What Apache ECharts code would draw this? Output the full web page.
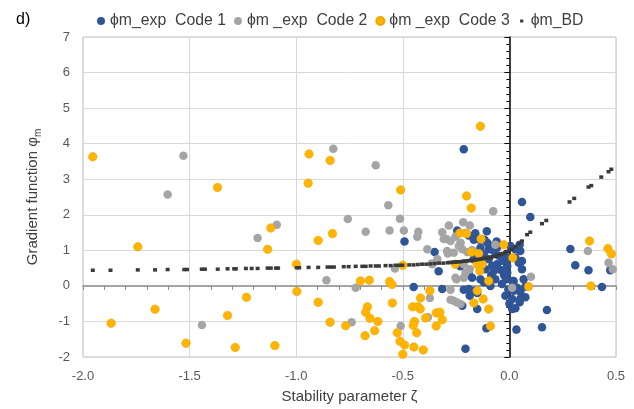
<!DOCTYPE html>
<html>
<head>
<meta charset="utf-8">
<script src="https://cdn.jsdelivr.net/npm/echarts@6/dist/echarts.min.js"></script>
<style>
html,body{margin:0;padding:0;background:#fff;}
#chart{width:634px;height:409px;}
</style>
</head>
<body>
<div id="chart"></div>
<script>
// ---- data ----
var seriesNames = ['\u03d5m_exp  Code 1', '\u03d5m _exp  Code 2', '\u03d5m _exp  Code 3', '\u03d5m_BD'];

var code1Points = [
[-0.214,3.84],[0.059,2.36],[0.098,1.94],[-0.492,1.25],[-0.351,0.95],[-0.332,0.41],[-0.449,-0.03],[-0.315,-0.09],
[-0.245,1.56],[-0.191,1.42],[-0.167,1.30],[-0.106,1.54],[-0.139,1.30],[-0.117,1.30],[-0.104,1.21],[-0.081,1.12],
[-0.058,1.07],[-0.097,1.03],[-0.073,0.98],[-0.136,1.07],[0.005,1.12],[0.028,1.03],[0.048,1.16],[0.028,0.79],
[0.059,0.70],[-0.167,0.75],[-0.097,0.75],[-0.081,0.56],[-0.058,0.61],[-0.112,0.47],[-0.175,0.23],[-0.136,0.19],
[-0.073,0.42],[-0.066,0.19],[-0.089,0.00],[-0.191,-0.09],[-0.167,-0.14],[-0.214,-0.11],[-0.186,-0.28],[-0.151,-0.20],
[-0.221,-0.56],[-0.151,-0.65],[-0.108,-1.19],[-0.206,-1.77],[0.033,-1.23],[0.153,-1.16],[0.176,-0.68],[0.048,-0.46],
[0.028,-0.63],[0.013,-0.65],[0.013,-0.37],[-0.019,-0.28],[0.051,-0.37],[0.075,-0.32],[0.051,-0.14],[0.020,0.14],
[0.067,0.19],[0.075,-0.02],[-0.010,0.56],[-0.010,0.37],[-0.015,0.19],[-0.020,0.85],[-0.030,0.70],[-0.040,0.45],
[-0.025,0.30],[-0.035,0.05],[0.286,1.04],[0.309,0.58],[0.371,0.44],[0.434,-0.03],[0.473,0.44],[-0.005,-0.10],
[0.020,-0.14],[-0.120,0.88],[-0.050,0.85],[-0.085,0.30],[-0.019,0.75],[-0.027,0.42],[0.013,0.14],[0.036,-0.05],
[0.051,0.98],[0.044,0.65],[0.059,0.47],[0.051,-0.17],[-0.230,0.55],[-0.190,0.33],[-0.160,1.48],[-0.060,1.25],
[0.000,-0.50],[-0.120,0.10]
];

var code2Points = [
[-1.529,3.66],[-1.603,2.57],[-1.181,1.35],[-1.091,1.72],[-0.858,0.16],[-1.442,-1.10],[-0.826,3.86],[-0.627,3.39],
[-0.568,2.27],[-0.758,1.88],[-0.513,1.89],[-0.674,1.52],[-0.562,1.56],[-0.495,1.56],[-0.427,1.52],[-0.432,1.38],
[-0.284,1.70],[-0.308,1.32],[-0.295,1.32],[-0.385,1.03],[-0.289,0.91],[-0.740,-1.02],[-0.721,-0.05],[-0.537,0.49],
[-0.510,-1.13],[-0.382,-0.88],[-0.373,-0.34],[-0.276,-0.39],[-0.365,0.63],[-0.261,-0.42],[-0.245,-0.47],[-0.229,-0.51],
[-0.076,2.10],[-0.217,1.79],[-0.186,1.70],[-0.315,1.51],[-0.253,1.38],[-0.206,1.49],[-0.276,1.26],[-0.229,1.21],
[-0.066,1.16],[-0.292,0.98],[-0.261,0.93],[-0.221,1.03],[-0.198,0.95],[-0.175,1.01],[-0.338,0.75],[-0.362,0.61],
[-0.214,0.61],[-0.186,0.47],[-0.206,0.37],[-0.253,0.23],[-0.214,0.23],[-0.276,-0.11],[-0.248,0.19],[0.101,0.26],
[0.013,-0.05],[0.368,0.98],[0.465,0.65],[0.485,0.47],[-0.237,1.12]
];

var code3Points = [
[-1.954,3.63],[-1.369,2.77],[-1.743,1.10],[-1.868,-1.05],[-1.662,-0.66],[-1.517,-1.61],[-1.286,-1.73],[-1.100,-1.68],
[-1.233,-0.32],[-1.322,-0.83],[-1.119,1.63],[-1.134,1.03],[-0.897,1.28],[-0.830,1.47],[-0.999,0.61],[-0.997,-0.16],
[-0.897,-0.46],[-0.841,-1.02],[-0.768,-1.12],[-0.940,3.71],[-0.841,3.53],[-0.944,2.89],[-0.510,2.70],[-0.699,0.14],
[-0.657,0.16],[-0.562,0.12],[-0.551,0.04],[-0.500,0.58],[-0.666,-0.59],[-0.674,-0.74],[-0.654,-0.91],[-0.617,-1.00],
[-0.632,-1.26],[-0.677,-1.40],[-0.549,-0.48],[-0.526,-1.32],[-0.513,-1.56],[-0.492,-1.66],[-0.500,-1.92],[-0.448,-1.72],
[-0.404,-1.80],[-0.454,-0.59],[-0.428,-0.59],[-0.418,-0.65],[-0.417,-0.34],[-0.373,-0.14],[-0.445,-1.00],[-0.451,-1.11],
[-0.435,-1.32],[-0.393,-0.90],[-0.343,-0.76],[-0.326,-0.74],[-0.315,-0.95],[-0.343,-1.13],[-0.167,-0.48],[-0.123,-0.37],
[-0.097,-0.65],[-0.151,-0.14],[-0.089,-1.13],[0.376,1.26],[0.462,1.05],[0.478,0.90],[0.382,0.00],[0.090,-0.02],
[0.016,0.79],[-0.027,1.16],[-0.136,4.49],[-0.201,2.53],[-0.179,2.19],[-0.232,1.49],[-0.201,1.47],[-0.133,1.32],
[-0.179,0.95],[-0.144,0.91],[-0.253,0.61],[-0.151,0.61],[-0.128,0.61],[-0.139,0.42],[-0.097,0.14]
];

var bdPoints = [
[-1.954,0.44],[-1.871,0.44],[-1.743,0.45],[-1.662,0.45],[-1.603,0.46],[-1.525,0.46],[-1.512,0.46],[-1.443,0.47],
[-1.428,0.47],[-1.368,0.47],[-1.322,0.48],[-1.291,0.48],[-1.283,0.48],[-1.236,0.49],[-1.209,0.49],[-1.181,0.49],
[-1.134,0.50],[-1.119,0.50],[-1.095,0.50],[-1.085,0.50],[-0.997,0.51],[-0.986,0.51],[-0.942,0.52],[-0.897,0.52],
[-0.853,0.53],[-0.838,0.53],[-0.823,0.53],[-0.777,0.54],[-0.754,0.54],[-0.721,0.55],[-0.690,0.55],[-0.674,0.55],
[-0.651,0.56],[-0.627,0.56],[-0.612,0.56],[-0.581,0.57],[-0.557,0.57],[-0.534,0.58],[-0.518,0.58],[-0.502,0.58],
[-0.47,0.59],[-0.45,0.59],[-0.43,0.60],[-0.41,0.61],[-0.39,0.61],[-0.37,0.62],[-0.35,0.63],[-0.33,0.64],
[-0.31,0.64],[-0.29,0.65],[-0.28,0.66],[-0.27,0.66],[-0.26,0.67],[-0.25,0.67],[-0.24,0.68],[-0.23,0.68],
[-0.22,0.69],[-0.21,0.70],[-0.20,0.70],[-0.19,0.71],[-0.18,0.72],[-0.17,0.72],[-0.16,0.73],[-0.15,0.74],
[-0.14,0.75],[-0.13,0.76],[-0.12,0.77],[-0.11,0.78],[-0.10,0.79],[-0.09,0.80],[-0.08,0.82],[-0.07,0.83],
[-0.06,0.85],[-0.05,0.87],[-0.04,0.89],[-0.03,0.91],[-0.02,0.94],[-0.01,0.97],[0.00,1.00],
[0.013,1.03],[0.028,1.10],[0.044,1.18],[0.059,1.26],[0.083,1.44],[0.098,1.51],[0.153,1.75],[0.173,1.84],
[0.282,2.36],[0.304,2.46],[0.371,2.78],[0.384,2.82],[0.431,3.06],[0.465,3.21],[0.478,3.28]
];

var xTickLabels = ['-2.0','-1.5','-1.0','-0.5','0.0','0.5'];
var yTickLabels = ['-2','-1','0','1','2','3','4','5','6','7'];

// ---- chart ----
var FONT = '"Liberation Sans", Arial, sans-serif';
var chart = echarts.init(document.getElementById('chart'), null, {renderer: 'canvas'});
var smallSquare = 'path://M0 0h0.01v0.01h-0.01zM10 10h0.01v0.01h-0.01zM3 3h4v4h-4z';

var option = {
  animation: false,
  backgroundColor: '#ffffff',
  textStyle: {fontFamily: FONT},
  title: {
    text: 'd)', left: 11, top: 7,
    textStyle: {fontSize: 16, fontWeight: 'normal', color: '#000', fontFamily: FONT}
  },
  legend: {
    left: 92, top: 8, itemWidth: 8, itemHeight: 8, itemGap: 8,
    textStyle: {fontSize: 15.8, color: '#404040', fontFamily: FONT},
    data: [
      {name: seriesNames[0], icon: 'circle'},
      {name: seriesNames[1], icon: 'circle'},
      {name: seriesNames[2], icon: 'circle'},
      {name: seriesNames[3], icon: smallSquare}
    ]
  },
  grid: {
    left: 83, right: 18, top: 37, bottom: 52,
    show: true, borderColor: '#BFBFBF', borderWidth: 1,
    outerBoundsMode: 'none', containLabel: false
  },
  xAxis: [
    {
      type: 'value', min: -2, max: 0.5, interval: 0.5, position: 'bottom',
      axisLine: {show: false, onZero: false},
      axisTick: {show: false},
      axisLabel: {
        margin: 13, fontSize: 13, color: '#595959', fontFamily: FONT,
        formatter: function (v) {
          var i = Math.round((v + 2) / 0.5);
          return xTickLabels[i] !== undefined ? xTickLabels[i] : v.toFixed(1);
        }
      },
      splitLine: {show: true, lineStyle: {color: '#D9D9D9', width: 1}},
      name: 'Stability parameter \u03b6', nameLocation: 'middle', nameGap: 32,
      nameTextStyle: {fontSize: 15, color: '#404040', fontFamily: FONT}
    },
    {
      type: 'value', min: -2, max: 0.5, interval: 0.5, position: 'bottom',
      axisLine: {show: true, onZero: true, lineStyle: {color: '#8C8C8C', width: 1.5}},
      axisTick: {show: true, length: 4, lineStyle: {color: '#8C8C8C', width: 1}},
      minorTick: {show: true, splitNumber: 5, length: 4, lineStyle: {color: '#8C8C8C', width: 1}},
      axisLabel: {show: false},
      splitLine: {show: false}
    }
  ],
  yAxis: [
    {
      type: 'value', min: -2, max: 7, interval: 1, position: 'left',
      axisLine: {show: false, onZero: false},
      axisTick: {show: false},
      axisLabel: {
        margin: 13, fontSize: 13, color: '#595959', fontFamily: FONT,
        formatter: function (v) {
          var i = Math.round(v + 2);
          return yTickLabels[i] !== undefined ? yTickLabels[i] : String(v);
        }
      },
      splitLine: {show: true, lineStyle: {color: '#D9D9D9', width: 1}},
      name: '{a|Gradient function \u03c6}{b|m}', nameLocation: 'middle', nameGap: 40,
      nameTextStyle: {
        fontSize: 15, color: '#404040', fontFamily: FONT,
        rich: {
          a: {fontSize: 15, color: '#404040', fontFamily: FONT, lineHeight: 20},
          b: {fontSize: 10, color: '#404040', fontFamily: FONT, lineHeight: 20, verticalAlign: 'bottom', padding: [8, 0, 0, 0]}
        }
      }
    },
    {
      type: 'value', min: -2, max: 7, interval: 1, position: 'left',
      axisLine: {show: true, onZero: true, lineStyle: {color: '#000000', width: 1.5}},
      axisTick: {show: true, length: 5, lineStyle: {color: '#000000', width: 1}},
      minorTick: {show: true, splitNumber: 5, length: 3, lineStyle: {color: '#000000', width: 1}},
      axisLabel: {show: false},
      splitLine: {show: false}
    }
  ],
  series: [
    {
      name: seriesNames[0], type: 'scatter', xAxisIndex: 0, yAxisIndex: 0,
      data: code1Points, symbol: 'circle', symbolSize: 8.5,
      itemStyle: {color: '#2F5597', opacity: 1}
    },
    {
      name: seriesNames[1], type: 'scatter', xAxisIndex: 0, yAxisIndex: 0,
      data: code2Points, symbol: 'circle', symbolSize: 8.5,
      itemStyle: {color: '#A5A5A5', opacity: 1}
    },
    {
      name: seriesNames[2], type: 'scatter', xAxisIndex: 0, yAxisIndex: 0,
      data: code3Points, symbol: 'circle', symbolSize: 8.5,
      itemStyle: {color: '#FFB400', borderColor: '#F2A600', borderWidth: 0.6, opacity: 1}
    },
    {
      name: seriesNames[3], type: 'scatter', xAxisIndex: 0, yAxisIndex: 0,
      data: bdPoints, symbol: 'rect', symbolSize: [4, 3.5],
      itemStyle: {color: '#3A3A3A', opacity: 1}
    }
  ]
};
chart.setOption(option);
</script>
</body>
</html>
